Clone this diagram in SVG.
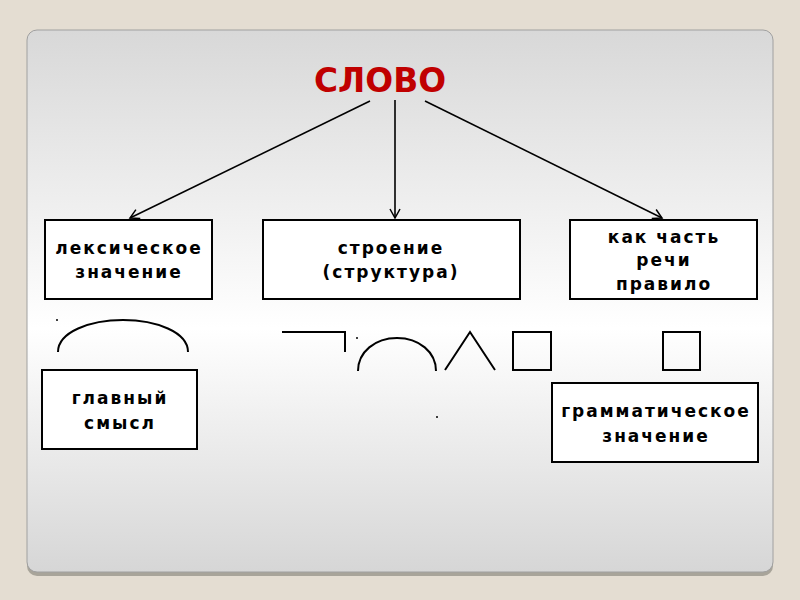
<svg xmlns="http://www.w3.org/2000/svg" width="800" height="600" viewBox="0 0 800 600">
<defs>
<linearGradient id="pg" x1="0" y1="0" x2="0" y2="1">
<stop offset="0" stop-color="#d8d8d8"/>
<stop offset="0.55" stop-color="#ffffff"/>
<stop offset="1" stop-color="#d6d6d6"/>
</linearGradient>
<marker id="ah" markerWidth="12" markerHeight="12" refX="10" refY="6" orient="auto" markerUnits="userSpaceOnUse">
<path d="M1,1 L10,6 L1,11" fill="none" stroke="#000" stroke-width="1.5"/>
</marker>
<style>
.box{fill:#fff;stroke:#000;stroke-width:2}
.t{font-family:"DejaVu Sans",sans-serif;font-weight:bold;font-size:17px;text-anchor:middle;fill:#000;letter-spacing:2px}
.sym{fill:none;stroke:#000;stroke-width:2}
.conn{stroke:#000;stroke-width:1.6;fill:none}
</style>
</defs>
<rect x="0" y="0" width="800" height="600" fill="#e4ddd2"/>
<rect x="27" y="33" width="746" height="543" rx="10" fill="#a8a49a"/>
<rect x="27" y="30" width="746" height="542" rx="10" fill="url(#pg)" stroke="#a0a0a0" stroke-width="1"/>

<g id="title">
<text x="380" y="92" font-family="'DejaVu Sans',sans-serif" font-weight="bold" font-size="33" fill="#c00000" text-anchor="middle" textLength="132" lengthAdjust="spacingAndGlyphs">СЛОВО</text>
</g>

<g id="connectors">
<line class="conn" x1="370" y1="101" x2="130" y2="218" marker-end="url(#ah)"/>
<line class="conn" x1="395" y1="100" x2="395" y2="218" marker-end="url(#ah)"/>
<line class="conn" x1="425" y1="101" x2="662" y2="218" marker-end="url(#ah)"/>
</g>

<g id="lexical">
<rect class="box" x="45" y="220" width="167" height="79"/>
<text class="t" x="129" y="254">лексическое</text>
<text class="t" x="129" y="278">значение</text>
</g>

<g id="structure">
<rect class="box" x="263" y="220" width="257" height="79"/>
<text class="t" x="391" y="254">строение</text>
<text class="t" x="391" y="278">(структура)</text>
</g>

<g id="pos">
<rect class="box" x="570" y="220" width="187" height="79"/>
<text class="t" x="664" y="243">как часть</text>
<text class="t" x="664" y="266">речи</text>
<text class="t" x="664" y="290">правило</text>
</g>

<g id="symbols">
<circle cx="57" cy="320" r="1" fill="#000"/>
<path class="sym" d="M58,352 C58,332 90,320 123,320 C156,320 188,332 188,352"/>
<path class="sym" d="M282,332 L345,332 L345,352"/>
<circle cx="357" cy="338" r="1" fill="#000"/>
<path class="sym" d="M358,371 C358,352 375,338 397,338 C419,338 436,352 436,371"/>
<path class="sym" d="M445,370 L470,332 L495,370"/>
<rect class="sym" x="513" y="332" width="38" height="38"/>
<rect class="sym" x="663" y="332" width="37" height="38"/>
<circle cx="187" cy="387" r="1" fill="#000"/>
<circle cx="437" cy="417" r="1" fill="#000"/>
</g>

<g id="main-meaning">
<rect class="box" x="42" y="370" width="155" height="79"/>
<text class="t" x="120" y="404">главный</text>
<text class="t" x="120" y="429">смысл</text>
</g>

<g id="grammatical">
<rect class="box" x="552" y="383" width="206" height="79"/>
<text class="t" x="656" y="417">грамматическое</text>
<text class="t" x="656" y="442">значение</text>
</g>
</svg>
